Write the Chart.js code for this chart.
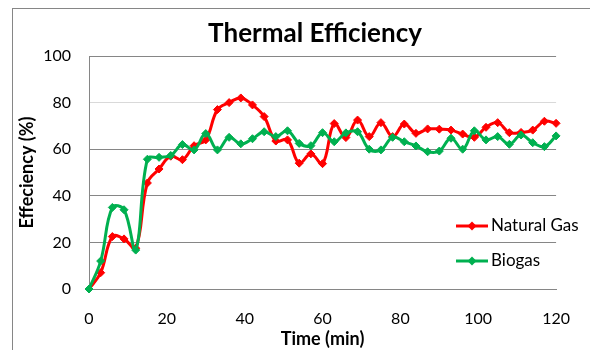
<!DOCTYPE html>
<html>
<head>
<meta charset="utf-8">
<script src="https://cdn.jsdelivr.net/npm/chart.js@4.4.3/dist/chart.umd.min.js"></script>
<style>
  html, body { margin: 0; padding: 0; background: #fff; }
  #wrap { position: relative; width: 590px; height: 350px; }
</style>
</head>
<body>
<div id="wrap"><canvas id="effChart"></canvas></div>
<script>
// ── data ────────────────────────────────────────────────────────────────────
const TITLE = 'Thermal Efficiency';
const SERIES_NAMES = ['Natural Gas', 'Biogas'];

const timeMin = [
  0, 3, 6, 9, 12, 15, 18, 21, 24, 27, 30, 33, 36, 39, 42, 45, 48, 51, 54, 57,
  60, 63, 66, 69, 72, 75, 78, 81, 84, 87, 90, 93, 96, 99, 102, 105, 108, 111,
  114, 117, 120,
];

const naturalGas = [
  0, 7, 22.5, 21.5, 17.5, 45.5, 51.5, 57, 55.5, 61.5, 64, 77, 80, 82, 79, 74,
  63.5, 64, 54, 58, 53.8, 71, 65, 72.5, 65.4, 71.4, 65.4, 70.8, 66.8, 68.7,
  68.6, 68.2, 66.5, 65.1, 69.4, 71.4, 67.1, 67.2, 68.2, 72, 71.1,
];

const biogas = [
  0, 12, 35, 34, 16.7, 55.7, 56.5, 57.3, 62, 59.7, 66.7, 59.7, 65.1, 62.3,
  64.5, 67.5, 65.4, 67.9, 62.5, 61.5, 67.1, 63.2, 67, 67.5, 60, 59.7, 65.1,
  63.2, 61.4, 58.9, 59.2, 64.7, 60, 67.9, 64, 65.4, 62.1, 66.1, 62.8, 61.1,
  65.7,
];

const xTicks = [0, 20, 40, 60, 80, 100, 120];
const yTicks = [0, 20, 40, 60, 80, 100];

// ── styling ─────────────────────────────────────────────────────────────────
const FONT = "Lato, 'Open Sans', sans-serif";
const RED = '#ff0000';
const GREEN = '#00b050';
const AXIS_GRAY = '#868686';

const toXY = vals => vals.map((v, i) => ({ x: timeMin[i], y: v }));

// Outer frame, title and in-plot legend
const framePlugin = {
  id: 'frame',
  beforeDraw(chart) {
    const { ctx } = chart;
    ctx.save();
    ctx.fillStyle = '#fff';
    ctx.fillRect(0, 0, chart.width, chart.height);
    ctx.strokeStyle = AXIS_GRAY;
    ctx.lineWidth = 1;
    ctx.strokeRect(12.5, 8.5, 700, 500);
    ctx.restore();
  },
  afterDraw(chart) {
    const { ctx } = chart;
    ctx.save();
    ctx.fillStyle = '#000';
    ctx.font = `bold 26px ${FONT}`;
    ctx.textAlign = 'center';
    ctx.textBaseline = 'middle';
    ctx.fillText(TITLE, 315, 34);

    chart.data.datasets.forEach((ds, i) => {
      const y = 226 + i * 35;
      ctx.strokeStyle = ds.borderColor;
      ctx.lineWidth = 3;
      ctx.beginPath();
      ctx.moveTo(456, y);
      ctx.lineTo(488, y);
      ctx.stroke();
      ctx.fillStyle = ds.borderColor;
      ctx.beginPath();
      ctx.moveTo(472, y - 4.5);
      ctx.lineTo(476.5, y);
      ctx.lineTo(472, y + 4.5);
      ctx.lineTo(467.5, y);
      ctx.closePath();
      ctx.fill();
      ctx.fillStyle = '#000';
      ctx.font = `17px ${FONT}`;
      ctx.textAlign = 'left';
      ctx.fillText(ds.label, 491, y);
    });
    ctx.restore();
  },
};

const lineSet = (label, data, color, order) => ({
  label,
  data: toXY(data),
  borderColor: color,
  backgroundColor: color,
  borderWidth: 3,
  tension: 0.4,
  pointStyle: 'rectRot',
  pointRadius: 4,
  pointBorderWidth: 1,
  pointBorderColor: color,
  pointBackgroundColor: color,
  clip: false,
  order,
});

new Chart(document.getElementById('effChart'), {
  type: 'line',
  data: {
    datasets: [
      lineSet(SERIES_NAMES[0], naturalGas, RED, 1),
      lineSet(SERIES_NAMES[1], biogas, GREEN, 0),
    ],
  },
  options: {
    responsive: true,
    maintainAspectRatio: false,
    animation: false,
    layout: { padding: { left: 0, right: 23, top: 56, bottom: 0 } },
    plugins: {
      legend: { display: false },
      title: { display: false },
      tooltip: { enabled: false },
    },
    scales: {
      x: {
        type: 'linear',
        min: 0,
        max: 120,
        afterFit: s => { s.height = 61; },
        afterBuildTicks: s => { s.ticks = xTicks.map(v => ({ value: v })); },
        grid: { display: false, drawTicks: false },
        border: { display: true, color: AXIS_GRAY, width: 1 },
        ticks: { color: '#000', font: { family: FONT, size: 16 }, padding: 20, maxRotation: 0 },
        title: {
          display: true,
          text: 'Time (min)',
          color: '#000',
          font: { family: FONT, size: 18, weight: 'bold' },
          padding: { top: 0, bottom: 0 },
        },
      },
      y: {
        min: 0,
        max: 100,
        afterFit: s => { s.width = 89; },
        afterBuildTicks: s => { s.ticks = yTicks.map(v => ({ value: v })); },
        grid: {
          drawTicks: false,
          color: c => (c.tick && c.tick.value === 80 ? '#d9d9d9' : AXIS_GRAY),
        },
        border: { display: true, color: AXIS_GRAY, width: 1 },
        ticks: { color: '#000', font: { family: FONT, size: 16 }, padding: 18 },
        title: {
          display: true,
          text: 'Effeciency (%)',
          color: '#000',
          font: { family: FONT, size: 18, weight: 'bold' },
          padding: { top: 16, bottom: 0 },
        },
      },
    },
  },
  plugins: [framePlugin],
});
</script>
</body>
</html>
